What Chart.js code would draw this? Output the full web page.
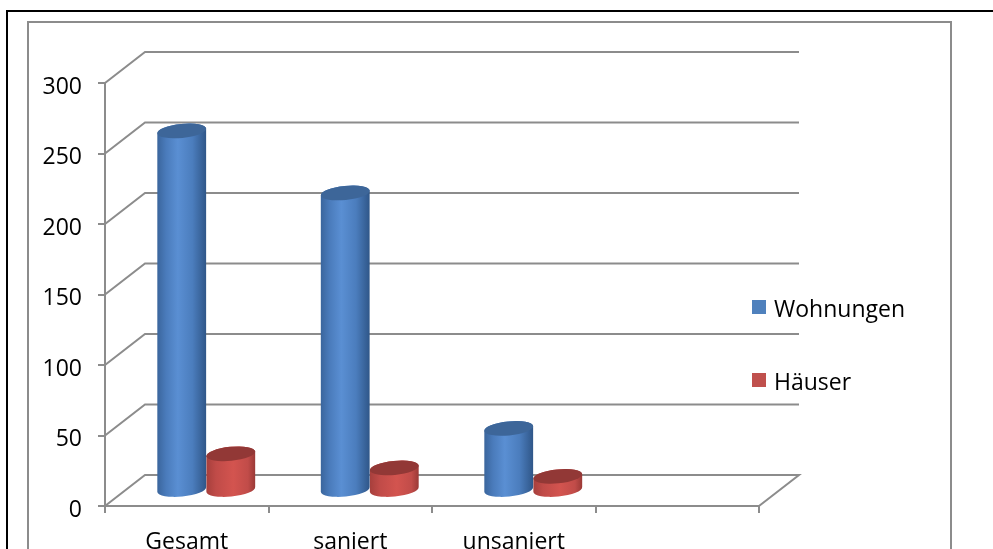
<!DOCTYPE html>
<html>
<head>
<meta charset="utf-8">
<script src="https://cdn.jsdelivr.net/npm/chart.js@4"></script>
<style>
  html, body { margin: 0; padding: 0; background: #fff; }
  canvas { display: block; }
</style>
</head>
<body>
<canvas id="c" width="993" height="549"></canvas>
<script>
// Chart values
const categories = ['Gesamt', 'saniert', 'unsaniert', ''];
const wohnungen = [255, 211, 44, null];
const haeuser = [26, 16, 10, null];
const seriesNames = ['Wohnungen', 'Häuser'];
const seriesColors = ['#4F81BD', '#C0504D'];
const yMin = 0, yMax = 300, yStep = 50;

const FONT = "'Open Sans', 'Segoe UI', sans-serif";
const FONT_SIZE = 23;
const AXIS_GRAY = '#8c8c8c';
const DEPTH_X = 40, DEPTH_Y = -31;     // back wall offset from the front plane
const MID_X = 19.5, MID_Y = -15.5;     // cylinders stand halfway into the depth

// shading used for the cylinder bodies and lids
const shades = {
  '#4F81BD': {
    body: [[0, '#3a659c'], [0.18, '#4a7bbb'], [0.42, '#5a8fd3'], [0.72, '#4b7dbd'], [1, '#2f5688']],
    top: '#3d6699'
  },
  '#C0504D': {
    body: [[0, '#a63f3c'], [0.2, '#c04b48'], [0.55, '#d3544f'], [0.85, '#c14c49'], [1, '#9a3936']],
    top: '#923836'
  }
};

function drawCylinder(ctx, cx, yTop, yBase, w, sh) {
  const rx = w / 2, ry = 7, rot = -0.1;
  const c = Math.cos(rot), s = Math.sin(rot);
  const g = ctx.createLinearGradient(cx - rx, 0, cx + rx, 0);
  sh.body.forEach(([o, col]) => g.addColorStop(o, col));
  ctx.beginPath();
  ctx.moveTo(cx - rx * c, yTop - rx * s);
  ctx.lineTo(cx - rx * c, yBase - rx * s);
  ctx.ellipse(cx, yBase, rx, ry, rot, Math.PI, 0, true);
  ctx.lineTo(cx + rx * c, yTop + rx * s);
  ctx.ellipse(cx, yTop, rx, ry, rot, 0, Math.PI, true);
  ctx.closePath();
  ctx.fillStyle = g;
  ctx.fill();
  ctx.beginPath();
  ctx.ellipse(cx, yTop, rx, ry, rot, 0, Math.PI * 2);
  ctx.fillStyle = sh.top;
  ctx.fill();
}

const frame3d = {
  id: 'frame3d',
  beforeDraw(chart) {
    const ctx = chart.ctx;
    ctx.save();
    ctx.fillStyle = '#fff';
    ctx.fillRect(0, 0, chart.width, chart.height);
    ctx.lineWidth = 2;
    ctx.strokeStyle = '#000';
    ctx.beginPath();
    ctx.moveTo(7, chart.height + 5); ctx.lineTo(7, 11); ctx.lineTo(chart.width + 5, 11);
    ctx.stroke();
    ctx.strokeStyle = '#8c8c8c';
    ctx.beginPath();
    ctx.moveTo(28, chart.height + 5); ctx.lineTo(28, 22); ctx.lineTo(951, 22); ctx.lineTo(951, chart.height + 5);
    ctx.stroke();
    ctx.restore();
  },
  beforeDatasetsDraw(chart) {
    const { ctx, scales: { x, y } } = chart;
    ctx.save();
    ctx.strokeStyle = AXIS_GRAY;
    ctx.lineWidth = 2;
    y.ticks.forEach(t => {
      const py = y.getPixelForValue(t.value);
      ctx.beginPath();
      ctx.moveTo(x.left, py);
      ctx.lineTo(x.left + DEPTH_X, py + DEPTH_Y);
      ctx.lineTo(x.right + DEPTH_X, py + DEPTH_Y);
      if (t.value === yMin) ctx.lineTo(x.right, py);
      ctx.stroke();
    });
    ctx.restore();
  },
  beforeDatasetDraw() { return false; },
  afterDatasetsDraw(chart) {
    const ctx = chart.ctx;
    ctx.save();
    [1, 0].forEach(di => {
      const meta = chart.getDatasetMeta(di);
      const data = chart.data.datasets[di].data;
      meta.data.forEach((bar, i) => {
        if (data[i] == null) return;
        drawCylinder(ctx, bar.x + MID_X, bar.y + MID_Y, bar.base + MID_Y, bar.width, shades[seriesColors[di]]);
      });
    });
    // legend
    const lx = 752, ly = [300, 373];
    ctx.font = FONT_SIZE + 'px ' + FONT;
    ctx.textBaseline = 'alphabetic';
    ctx.textAlign = 'left';
    chart.data.datasets.forEach((ds, i) => {
      ctx.fillStyle = seriesColors[i];
      ctx.fillRect(lx, ly[i], 14, 14);
      ctx.fillStyle = '#000';
      ctx.fillText(ds.label, lx + 22, ly[i] + 16.5);
    });
    ctx.restore();
  }
};

new Chart(document.getElementById('c'), {
  type: 'bar',
  data: {
    labels: categories,
    datasets: [
      { label: seriesNames[0], data: wohnungen, backgroundColor: seriesColors[0] },
      { label: seriesNames[1], data: haeuser, backgroundColor: seriesColors[1] }
    ]
  },
  options: {
    responsive: false,
    animation: false,
    layout: { padding: { left: 0, top: 83, right: 234, bottom: 0 } },
    datasets: { bar: { categoryPercentage: 0.6, barPercentage: 1 } },
    plugins: { legend: { display: false }, tooltip: { enabled: false } },
    scales: {
      x: {
        grid: { drawOnChartArea: false, tickLength: 7, color: AXIS_GRAY, lineWidth: 2, offset: true },
        border: { color: AXIS_GRAY, width: 2 },
        ticks: { font: { family: FONT, size: FONT_SIZE }, color: '#000', padding: 16, maxRotation: 0, autoSkip: false },
        afterFit(s) { s.height = 43; }
      },
      y: {
        min: yMin, max: yMax,
        grid: { drawOnChartArea: false, tickLength: 7, color: AXIS_GRAY, lineWidth: 2 },
        border: { color: AXIS_GRAY, width: 2 },
        ticks: { stepSize: yStep, font: { family: FONT, size: FONT_SIZE }, color: '#000', padding: 16, labelOffset: 4 },
        afterFit(s) { s.width = 105; }
      }
    }
  },
  plugins: [frame3d]
});
</script>
</body>
</html>
